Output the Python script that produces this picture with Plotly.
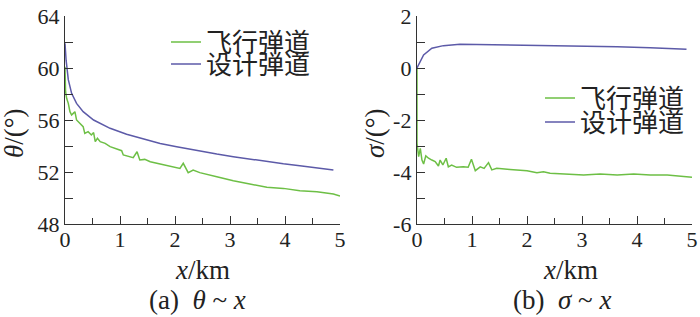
import plotly.graph_objects as go

# ---- data: (a) theta ~ x ----
x_theta_design = [0, 0.02, 0.06, 0.12, 0.21, 0.33, 0.52, 0.82, 1.12, 1.42, 1.73, 2.03,
                  2.42, 2.76, 3.06, 3.36, 3.67, 3.97, 4.27, 4.58, 4.88]
theta_design = [61.9, 60.6, 59.1, 58.05, 57.28, 56.64, 56.0, 55.36, 54.9, 54.54, 54.2, 53.95,
                53.62, 53.38, 53.18, 52.98, 52.79, 52.63, 52.49, 52.31, 52.15]

x_theta_flight = [0, 0.01, 0.03, 0.06, 0.09, 0.12, 0.15, 0.18, 0.21, 0.27, 0.33, 0.36, 0.42,
                  0.48, 0.52, 0.55, 0.59, 0.64, 0.73, 0.82, 0.94, 1.03, 1.06, 1.15, 1.24,
                  1.31, 1.36, 1.45, 1.55, 1.73, 1.91, 2.09, 2.15, 2.24, 2.33, 2.45, 2.76,
                  3.06, 3.36, 3.67, 3.97, 4.27, 4.58, 4.88, 5.0]
theta_flight = [60.1, 58.2, 57.67, 57.28, 56.64, 56.38, 56.51, 56.64, 56.0, 55.74, 55.49, 54.97, 55.1,
                54.85, 55.03, 54.33, 54.59, 54.33, 54.2, 53.95, 53.74, 53.64, 53.31, 53.23, 53.1,
                53.56, 52.92, 52.97, 52.79, 52.62, 52.46, 52.28, 52.67, 51.95, 52.15, 51.95, 51.64,
                51.33, 51.08, 50.82, 50.74, 50.56, 50.48, 50.3, 50.15]

# ---- data: (b) sigma ~ x ----
x_sigma_design = [0, 0.06, 0.12, 0.27, 0.48, 0.78, 1.09, 1.69, 2.42, 3.03, 3.64, 4.24, 4.9]
sigma_design = [0.0, 0.24, 0.5, 0.76, 0.86, 0.91, 0.9, 0.87, 0.86, 0.85, 0.82, 0.78, 0.72]

x_sigma_flight = [0, 0.0, 0.03, 0.06, 0.09, 0.12, 0.16, 0.21, 0.27, 0.33, 0.39, 0.42, 0.47,
                  0.53, 0.57, 0.63, 0.72, 0.84, 0.93, 0.99, 1.06, 1.15, 1.22, 1.3, 1.36,
                  1.45, 1.69, 2.0, 2.18, 2.3, 2.42, 3.03, 3.33, 3.64, 3.94, 4.24, 4.55, 5.0]
sigma_flight = [0.0, -2.9, -3.41, -3.09, -3.54, -3.69, -3.38, -3.47, -3.54, -3.6, -3.77, -3.54, -3.73,
                -3.47, -3.8, -3.73, -3.82, -3.8, -3.82, -3.51, -3.95, -3.8, -3.86, -3.64, -3.92,
                -3.86, -3.9, -3.95, -4.03, -3.99, -4.05, -4.12, -4.08, -4.12, -4.08, -4.12, -4.12, -4.2]

theta_ticks = [48, 52, 56, 60, 64]
sigma_ticks = [-6, -4, -2, 0, 2]
sigma_ticktext = ["-6", "-4", "-2", "0", "2"]
x_ticks = [0, 1, 2, 3, 4, 5]
legend_names = ["飞行弹道", "设计弹道"]

GREEN = "#6dbf45"
PURPLE = "#5c5aa8"
AX = "#333333"
SERIF = "Liberation Serif"
CJK = "Noto Sans CJK SC"

fig = go.Figure()
fig.add_trace(go.Scatter(x=x_theta_flight, y=theta_flight, mode="lines", name=legend_names[0],
                         line=dict(color=GREEN, width=1.5), xaxis="x", yaxis="y", legend="legend"))
fig.add_trace(go.Scatter(x=x_theta_design, y=theta_design, mode="lines", name=legend_names[1],
                         line=dict(color=PURPLE, width=1.5), xaxis="x", yaxis="y", legend="legend2"))
fig.add_trace(go.Scatter(x=x_sigma_flight, y=sigma_flight, mode="lines", name=legend_names[0],
                         line=dict(color=GREEN, width=1.5), xaxis="x2", yaxis="y2", legend="legend3"))
fig.add_trace(go.Scatter(x=x_sigma_design, y=sigma_design, mode="lines", name=legend_names[1],
                         line=dict(color=PURPLE, width=1.5), xaxis="x2", yaxis="y2", legend="legend4"))

W, H = 700, 317
# plot area in screen pixels: x 65..692, y 16..224
L, R, T, B = 65, 700 - 692, 16, 317 - 224
PW = W - L - R
PH = H - T - B


def px(xs):
    return (xs - L) / PW


def py(ys):
    return (H - B - ys) / PH


common = dict(showline=True, linecolor=AX, linewidth=1.3, ticks="inside", tickcolor=AX,
              tickwidth=1.3, ticklen=8, showgrid=False, zeroline=False, mirror=False,
              ticklabeloverflow="allow", automargin=False,
              tickfont=dict(family=SERIF, size=22, color="#222"))

xaxis_common = dict(common, range=[0, 5], tickvals=x_ticks, ticklabelstandoff=-5,
                    minor=dict(ticks="inside", ticklen=6, dtick=0.5, tickcolor=AX, tickwidth=1.2))

fig.update_layout(
    width=W, height=H,
    margin=dict(l=L, r=R, t=T, b=B, autoexpand=False),
    plot_bgcolor="white", paper_bgcolor="white",
    xaxis=dict(xaxis_common, domain=[0, px(340)], anchor="y"),
    yaxis=dict(common, range=[48, 64], tickvals=theta_ticks, anchor="x",
               minor=dict(ticks="inside", ticklen=8, dtick=2, tickcolor=AX, tickwidth=1.2)),
    xaxis2=dict(xaxis_common, domain=[px(417), 1], anchor="y2"),
    yaxis2=dict(common, range=[-6, 2], tickvals=sigma_ticks, ticktext=sigma_ticktext, anchor="x2",
                minor=dict(ticks="inside", ticklen=8, dtick=1, tickcolor=AX, tickwidth=1.2)),
    showlegend=True,
)

leg = dict(font=dict(family=CJK, size=26, color="#222"), bgcolor="rgba(0,0,0,0)",
           borderwidth=0, xanchor="left", yanchor="middle", tracegroupgap=0)
fig.update_layout(
    legend=dict(leg, x=px(166), y=py(42)),
    legend2=dict(leg, x=px(166), y=py(64)),
    legend3=dict(leg, x=px(540), y=py(98)),
    legend4=dict(leg, x=px(540), y=py(122)),
)

ann_font = dict(family=SERIF, size=27, color="#222")
annotations = [
    dict(text="<i>θ</i>/(°)", x=px(14), y=py(133), textangle=-90),
    dict(text="<i>σ</i>/(°)", x=px(375), y=py(133), textangle=-90),
    dict(text="<i>x</i>/km", x=px(202), y=py(270)),
    dict(text="<i>x</i>/km", x=px(570), y=py(270)),
    dict(text="(a)  <i>θ</i> ~ <i>x</i>", x=px(197), y=py(300)),
    dict(text="(b)  <i>σ</i> ~ <i>x</i>", x=px(562), y=py(300)),
]
for a in annotations:
    fig.add_annotation(xref="paper", yref="paper", showarrow=False, xanchor="center",
                       yanchor="middle", font=ann_font, **a)

fig.write_html("out.html", config={"displayModeBar": False},
               post_script="document.body.style.margin='0';document.body.style.overflow='hidden';")
